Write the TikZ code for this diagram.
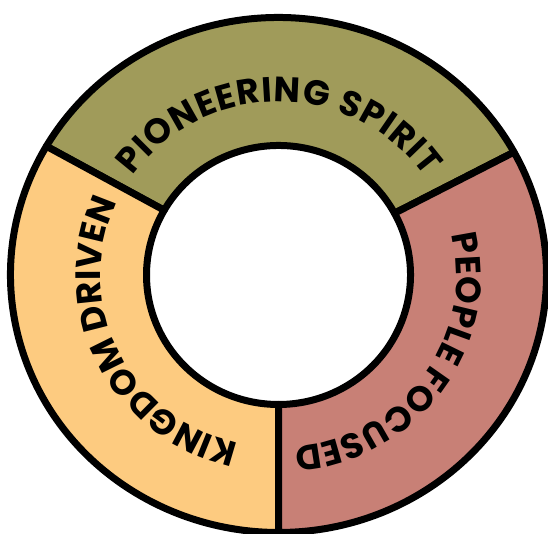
\documentclass[tikz,border=0pt]{standalone}
\usepackage{fontspec}
\setmainfont{Poppins}
\usepackage{tikz}
\usetikzlibrary{decorations.text}
\definecolor{pioneerolive}{RGB}{160, 155, 90}
\definecolor{peoplerose}{RGB}{200, 128, 118}
\definecolor{kingdomgold}{RGB}{253, 203, 128}

\begin{document}
\begin{tikzpicture}[x=0.02cm, y=0.02cm,
    ringpart/.style={draw=black, line width=0.14cm, line join=round},
    ringtext/.style={decorate, decoration={text along path, text align={fit to path},
        text={|\fontsize{20}{20}\selectfont\bfseries|#1}}},
]
\useasboundingbox (0,0) rectangle (548,534);

% three parts of the ring: start angle / end angle / fill
\begin{scope}[shift={(278.5,259)}]
\foreach \a/\b/\col in {28.5/150/pioneerolive, 150/270/kingdomgold, -90/28.5/peoplerose}
  \draw[ringpart, fill=\col] ({268*cos(\a)},{257.5*sin(\a)})
      arc[start angle=\a, end angle=\b, x radius=268, y radius=257.5]
      -- ({132*cos(\b)},{129.5*sin(\b)})
      arc[start angle=\b, end angle=\a, x radius=132, y radius=129.5] -- cycle;

% labels, written clockwise
\path[ringtext={PIONEERING SPIRIT}] ({178*cos(145)},{173*sin(145)})
    arc[start angle=145, end angle=34.5, x radius=178, y radius=173];
\path[ringtext={PEOPLE FOCUSED}] ({178*cos(13.5)},{173*sin(13.5)})
    arc[start angle=13.5, end angle=-85, x radius=178, y radius=173];
\path[ringtext={KINGDOM DRIVEN}] ({178*cos(257)},{173*sin(257)})
    arc[start angle=257, end angle=155.5, x radius=178, y radius=173];
\end{scope}

\end{tikzpicture}
\end{document}
